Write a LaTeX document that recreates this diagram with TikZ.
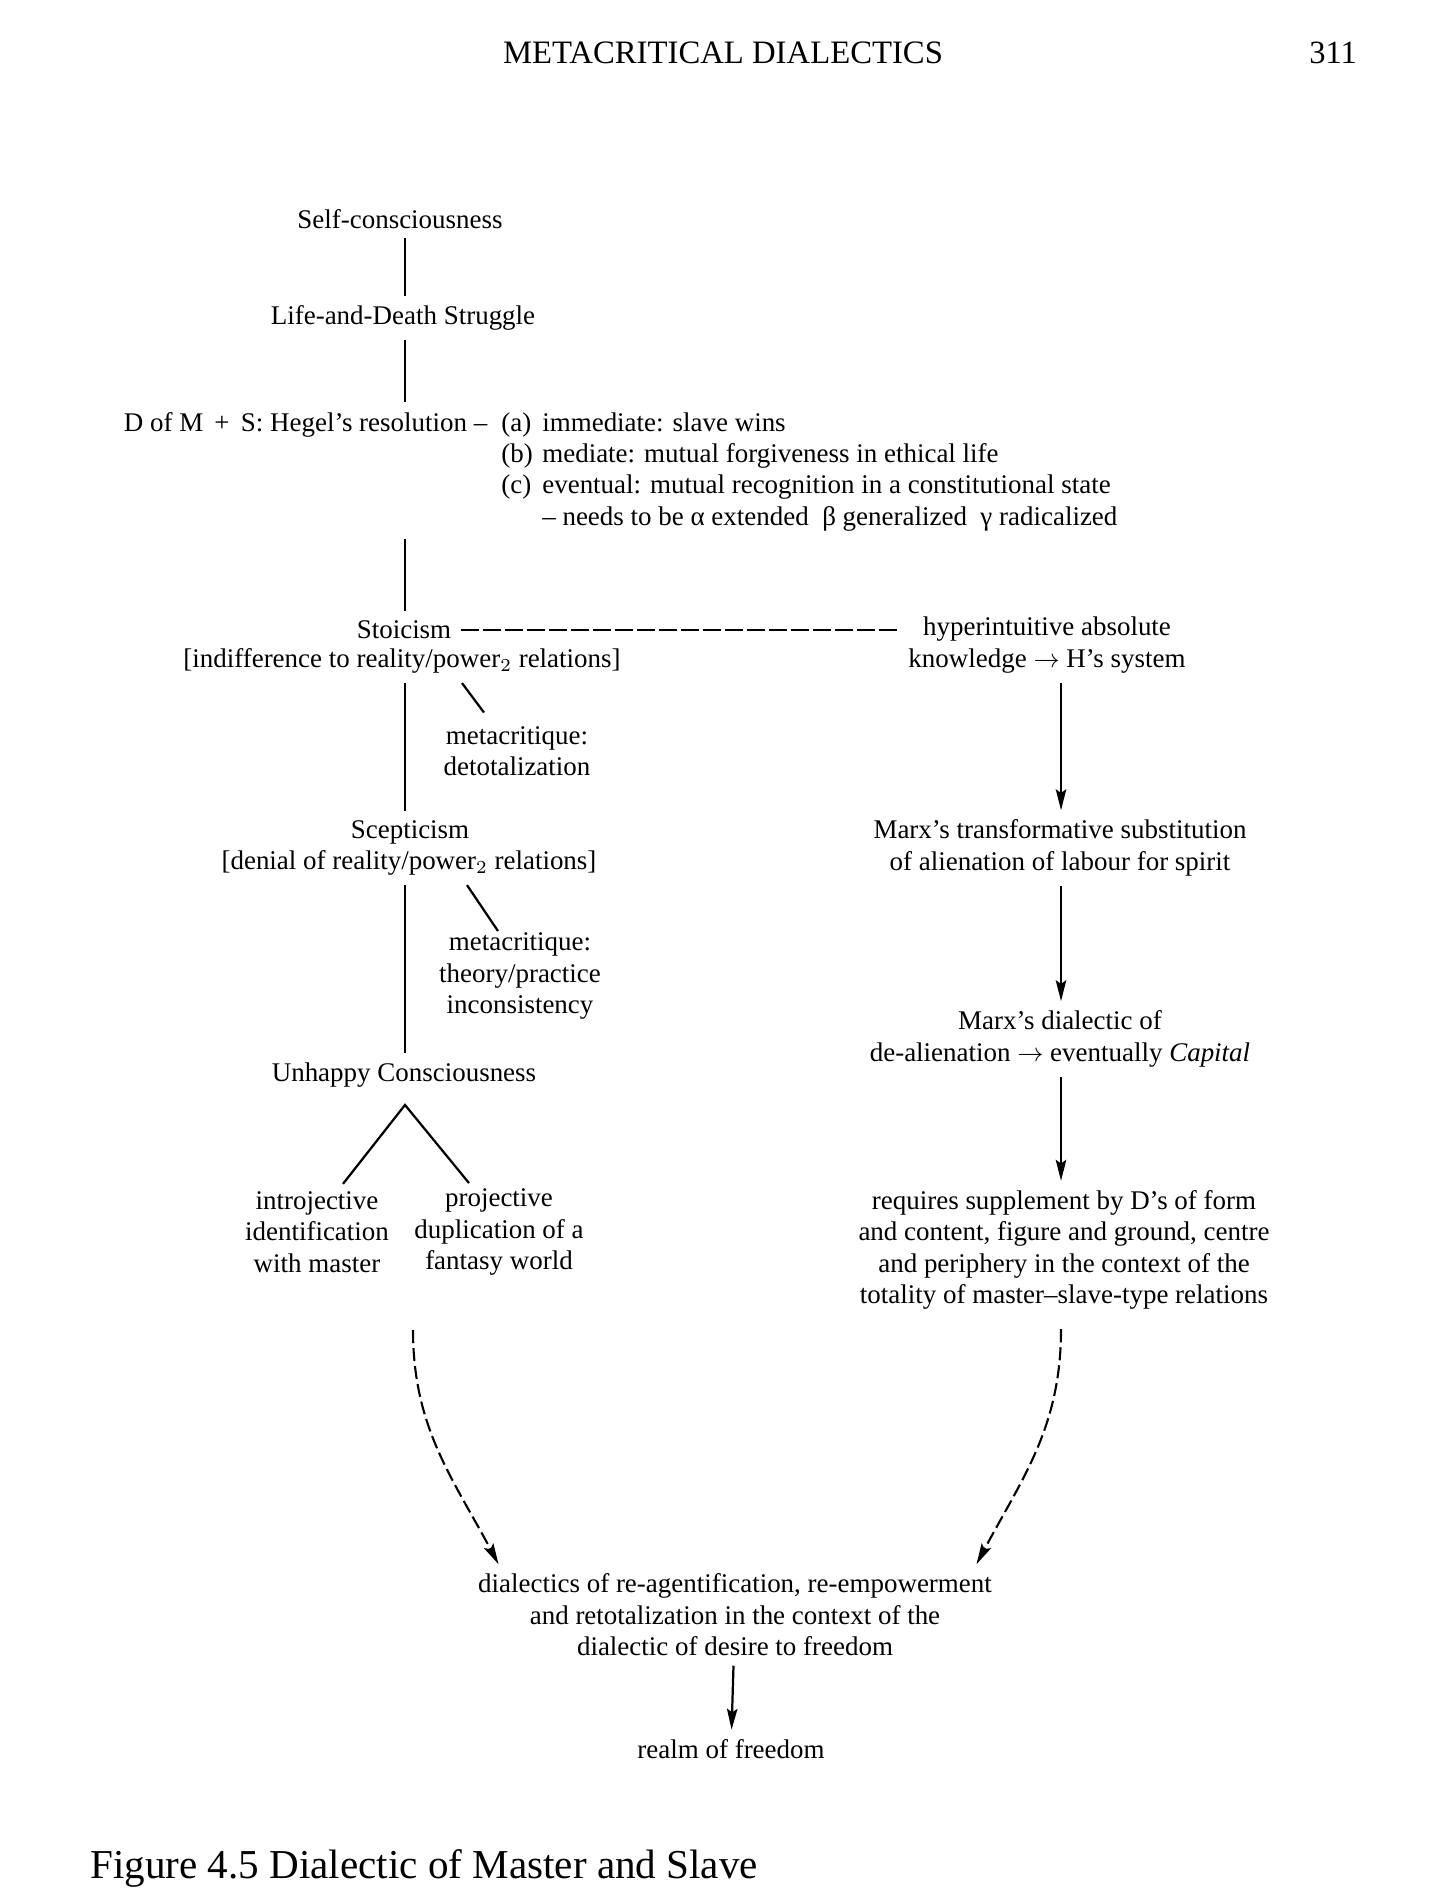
\documentclass[tikz,border=0pt]{standalone}
\usepackage{fontspec}
\setmainfont{Liberation Serif}
\usepackage{tikz}
\usetikzlibrary{positioning,arrows.meta}

\begin{document}
\begin{tikzpicture}[>={Stealth[length=8pt,width=4pt,inset=1.4pt]},x=0.382pt,y=-0.382pt,
	lbl/.style={align=center,inner sep=3.5pt,font=\fontsize{10.3}{12}\selectfont},
	link/.style={line width=0.85pt},
	hop/.style={line width=0.95pt,dash pattern=on 7pt off 1.4pt},
	curvy/.style={line width=0.8pt,dash pattern=on 5pt off 1.9pt}]
		\useasboundingbox (0,0) rectangle (1430,1896);
		\coordinate (col) at (405,0);
		\coordinate (rcol) at (1061,0);

		\node (head) [font=\fontsize{12.5}{14}\selectfont] at (723,53) {METACRITICAL DIALECTICS};
		\node (page) [font=\fontsize{12.4}{14}\selectfont] at (1333,53) {311};

		% left column
		\node (self) [lbl] at (400,219) {Self-consciousness};
		\node (life) [lbl] at (403,318) {Life-and-Death Struggle};
		\node (hegel) [lbl,anchor=base east] at (497,431) {D of M~\,+~\,S: Hegel’s resolution –};
		\node (resol) [lbl,inner sep=1.5pt,anchor=base west] at (hegel.base east) {\begin{tabular}[t]{@{}l@{\hspace{0.35em}}l@{}}
			(a) & immediate: slave wins\\
			(b) & mediate: mutual forgiveness in ethical life\\
			(c) & eventual: mutual recognition in a constitutional state\\
			 & – needs to be α extended\enspace β generalized\enspace γ radicalized
		\end{tabular}};
		\node (stoic) [lbl] at (404,630) {Stoicism};
		\node (stoicnote) [lbl] at (402,661) {[indifference to reality/power$_2$ relations]};
		\node (meta1) [lbl] at (517,751) {metacritique:\\detotalization};
		\node (scep) [lbl] at (410,832) {Scepticism};
		\node (scepnote) [lbl] at (409,863) {[denial of reality/power$_2$ relations]};
		\node (meta2) [lbl] at (520,976) {metacritique:\\theory/practice\\inconsistency};
		\node (unhappy) [lbl] at (404,1075) {Unhappy Consciousness};
		\node (introj) [lbl] at (317,1232) {introjective\\identification\\with master};
		\node (proj) [lbl] at (499,1232) {projective\\duplication of a\\fantasy world};

		% right column
		\node (hyper) [lbl] at (1047,645) {hyperintuitive absolute\\knowledge $\rightarrow$ H’s system};
		\node (marx1) [lbl] at (1060,848) {Marx’s transformative substitution\\of alienation of labour for spirit};
		\node (marx2) [lbl] at (1060,1039) {Marx’s dialectic of\\de-alienation $\rightarrow$ eventually \textit{Capital}};
		\node (supp) [lbl] at (1064,1250) {requires supplement by D’s of form\\and content, figure and ground, centre\\and periphery in the context of the\\totality of master–slave-type relations};

		% bottom
		\node (dial) [lbl] at (735,1615) {dialectics of re-agentification, re-empowerment\\and retotalization in the context of the\\dialectic of desire to freedom};
		\node (realm) [lbl] at (731,1749) {realm of freedom};
		\node (caption) [anchor=west,font=\fontsize{15.7}{18}\selectfont] at (81,1868) {Figure 4.5 Dialectic of Master and Slave};
		\coordinate (lstart) at (413,1330);

		\draw[link] (col |- self.south) -- (col |- life.north);
		\draw[link] (col |- life.south) -- (col |- hegel.north);
		\draw[link] (col |- resol.south) -- (col |- stoic.north);
		\draw[hop] (stoic.east) -- (stoic.east -| hyper.west);
		\draw[link] (col |- stoicnote.south) -- (col |- scep.north);
		\draw[link] ([shift={(60,0)}]stoicnote.south) -- ([shift={(-33,-4)}]meta1.north);
		\draw[link] (col |- scepnote.south) -- (col |- unhappy.north);
		\draw[link] ([shift={(58,0)}]scepnote.south) -- ([shift={(-22,8)}]meta2.north);
		\draw[link] ([shift={(26,2)}]introj.north) -- ([shift={(1,8)}]unhappy.south) -- ([shift={(-30,4)}]proj.north);

		\draw[link,->] (rcol |- hyper.south) -- (rcol |- marx1.north);
		\draw[link,->] (rcol |- marx1.south) -- (rcol |- marx2.north);
		\draw[link,->] (rcol |- marx2.south) -- (rcol |- supp.north);

		\draw[curvy,->] (lstart) to[out=-90,in=118] ([shift={(30,0)}]dial.north west);
		\draw[curvy,->] ([shift={(0,10)}]rcol |- supp.south) to[out=-90,in=62] ([shift={(-25,0)}]dial.north east);
		\draw[link,->] (dial) -- (realm);
\end{tikzpicture}
\end{document}
